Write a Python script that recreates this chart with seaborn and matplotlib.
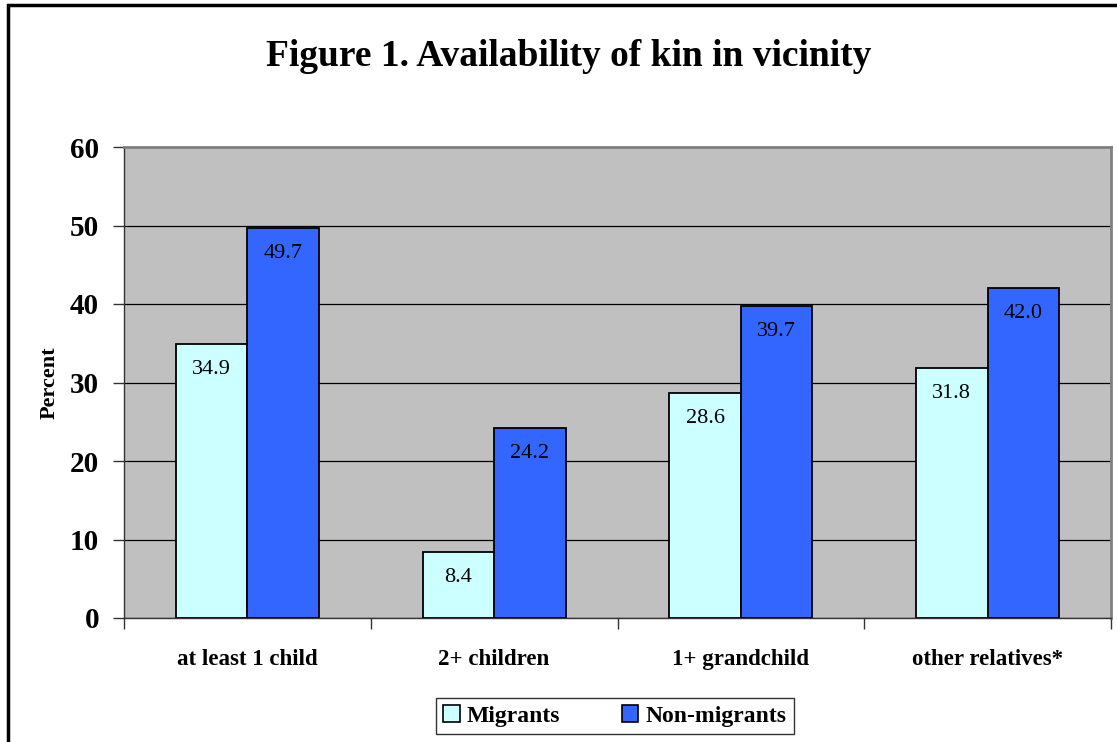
import seaborn as sns
import pandas as pd
import matplotlib.pyplot as plt
from matplotlib.patches import Rectangle

categories = ["at least 1 child", "2+ children", "1+ grandchild", "other relatives*"]
migrants = [34.9, 8.4, 28.6, 31.8]
nonMigrants = [49.7, 24.2, 39.7, 42.0]
groups = ["Migrants", "Non-migrants"]
yTicks = [0, 10, 20, 30, 40, 50, 60]

rows = []
for i, cat in enumerate(categories):
    rows.append({"category": cat, "group": groups[0], "percent": migrants[i]})
    rows.append({"category": cat, "group": groups[1], "percent": nonMigrants[i]})
df = pd.DataFrame(rows)

sns.set_theme(style="white")
plt.rcParams["font.family"] = ["Liberation Serif", "DejaVu Serif"]
plt.rcParams["text.color"] = "black"
plt.rcParams["xtick.color"] = "black"
plt.rcParams["ytick.color"] = "black"
plt.rcParams["axes.labelcolor"] = "black"

fig = plt.figure(figsize=(11.17, 7.42), dpi=100)
ax = fig.add_axes([124 / 1117, 1 - 618 / 742, (1111 - 124) / 1117, (618 - 147) / 742])
ax.set_facecolor("#C0C0C0")

sns.barplot(
    data=df,
    x="category",
    y="percent",
    hue="group",
    palette=["#CCFFFF", "#3366FF"],
    saturation=1,
    width=0.58,
    edgecolor="black",
    linewidth=1.3,
    legend=True,
    ax=ax,
    zorder=3,
)

for container in ax.containers:
    for bar in container:
        h = bar.get_height()
        ax.text(
            bar.get_x() + bar.get_width() / 2,
            h - 2.0,
            f"{h:.1f}",
            ha="center",
            va="top",
            fontsize=16,
            color="black",
            zorder=4,
        )

ax.set_ylim(0, 60)
ax.set_xlim(-0.5, len(categories) - 0.5)
ax.set_yticks(yTicks)
ax.set_yticklabels([str(t) for t in yTicks], fontsize=21, fontweight="bold")
ax.yaxis.grid(True, color="black", linewidth=0.9, zorder=1)
ax.set_axisbelow(True)
ax.tick_params(axis="y", length=8, width=1, color="#333333", left=True, pad=10)

ax.set_xticks(range(len(categories)))
ax.set_xticklabels(categories, fontsize=16.5, fontweight="bold")
ax.tick_params(axis="x", which="major", length=0, pad=22)
ax.set_xticks([x - 0.5 for x in range(len(categories) + 1)], minor=True)
ax.tick_params(axis="x", which="minor", length=8, width=1, color="#333333", bottom=True)

ax.set_xlabel("")
ax.set_ylabel("Percent", fontsize=16, fontweight="bold", labelpad=7)

for side in ["left", "bottom"]:
    ax.spines[side].set_color("#333333")
    ax.spines[side].set_linewidth(1)
for side in ["top", "right"]:
    ax.spines[side].set_color("#808080")
    ax.spines[side].set_linewidth(2)

ax.get_legend().remove()
handles = [
    Rectangle((0, 0), 1, 1, facecolor="#CCFFFF", edgecolor="black", linewidth=1.2),
    Rectangle((0, 0), 1, 1, facecolor="#3366FF", edgecolor="black", linewidth=1.2),
]
leg = fig.legend(
    handles,
    groups,
    loc="center",
    bbox_to_anchor=(615 / 1117, 1 - 716 / 742),
    ncol=2,
    frameon=True,
    fancybox=False,
    prop={"size": 17, "weight": "bold"},
    handlelength=0.7,
    handleheight=0.7,
    handletextpad=0.3,
    columnspacing=2.6,
    borderpad=0.3,
)
leg.get_frame().set_edgecolor("black")
leg.get_frame().set_linewidth(1)

fig.text(
    569 / 1117,
    1 - 56 / 742,
    "Figure 1. Availability of kin in vicinity",
    ha="center",
    va="center",
    fontsize=27,
    fontweight="bold",
)

fig.patches.append(
    Rectangle(
        (8 / 1117, -0.1),
        1.2,
        1.1 - 5 / 742,
        transform=fig.transFigure,
        fill=False,
        edgecolor="black",
        linewidth=2.5,
    )
)

fig.savefig("out.png", dpi=100)
